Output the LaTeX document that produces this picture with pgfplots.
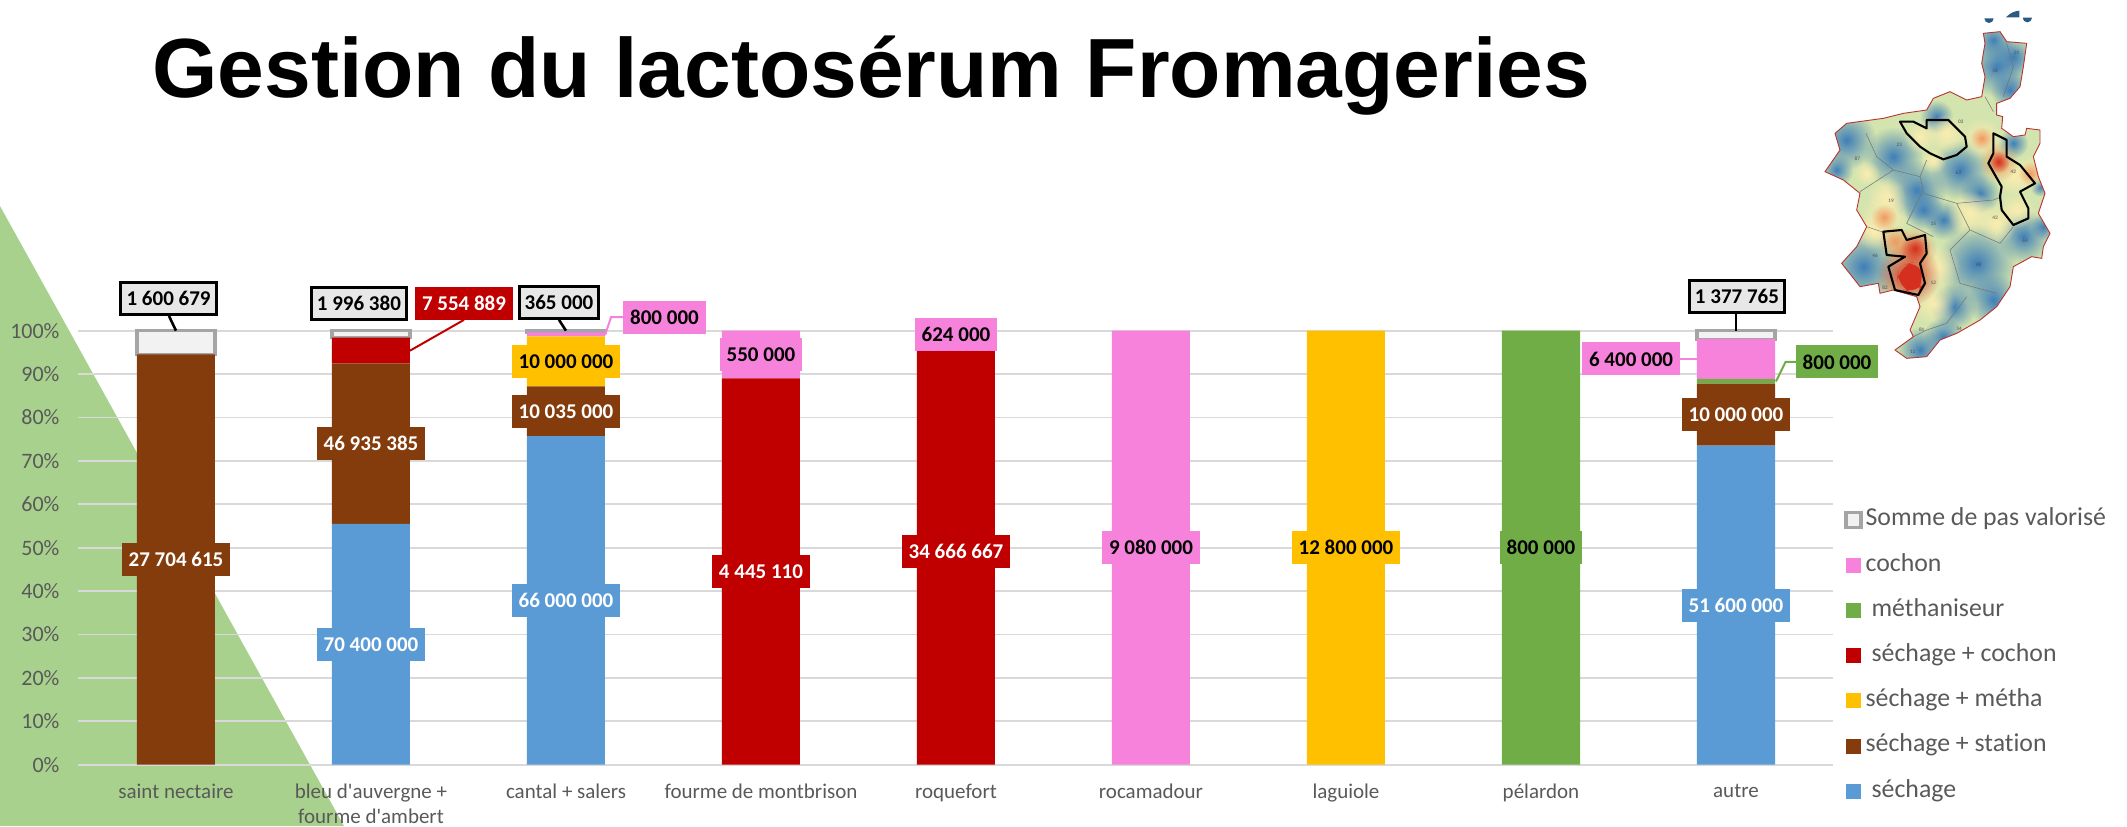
\documentclass[border=0pt]{standalone}
\usepackage{fontspec}
\setmainfont{Carlito}[Ligatures={NoCommon,TeXOff}]
\newfontfamily\titlefont{Liberation Sans}
\usepackage{pgfplots}
\usepackage{pgfplotstable}
\pgfplotsset{compat=1.18}
\usetikzlibrary{fadings}

\definecolor{cbleu}{HTML}{5B9BD5}
\definecolor{cbrun}{HTML}{843C0C}
\definecolor{cjaune}{HTML}{FFC000}
\definecolor{crouge}{HTML}{C00000}
\definecolor{cvert}{HTML}{70AD47}
\definecolor{crose}{HTML}{F782DC}
\definecolor{cgris}{HTML}{F2F2F2}
\definecolor{cgrisb}{HTML}{A5A5A5}
\definecolor{cboite}{HTML}{E7E7E7}
\definecolor{ctexte}{HTML}{595959}
\definecolor{cgrille}{HTML}{D9D9D9}
\definecolor{ctri}{HTML}{A9D18E}
\definecolor{mbase}{HTML}{D3E4AE}
\definecolor{mbleu}{HTML}{3F7FB8}
\definecolor{mjaune}{HTML}{FBEDB0}
\definecolor{morange}{HTML}{EE9A60}
\definecolor{mrouge}{HTML}{D5301F}

\tikzfading[name=blob, inner color=transparent!0, outer color=transparent!100]

% shares of each cheese (percent), worked out from the tonnages on the labels
% rows are stacked by position: "autre" comes fourth so the short last series lines up
\pgfplotstableread{
x sechage station metha seccoch methan cochon pas
0 0     94.54 0     0     0    0     5.46
1 55.48 36.99 0     5.95  0    0     1.57
2 75.69 11.51 11.47 0     0    0.92  0.42
8 73.53 14.25 0     0     1.14 9.12  1.96
3 0     0     0     88.99 0    11.01 nan
4 0     0     0     98.23 0    1.77  nan
5 0     0     0     0     0    100   nan
6 0     0     100   0     0    0     nan
7 0     0     0     0     100  0     nan
}\parts

\tikzset{
  val/.style={font=\fontsize{10.5}{12}\bfseries\selectfont, minimum height=16.5pt,
    inner xsep=3.5pt, inner ysep=0pt},
  bl/.style={val, fill=#1, text=white},
  nr/.style={val, fill=#1, text=black},
  bx/.style={val, fill=cboite, draw=black, line width=1.5pt, minimum height=16pt, inner xsep=2.8pt},
}
\pgfplotsset{cadre/.style={
    at={(39.25pt,30.65pt)}, anchor=south west,
    scale only axis, width=877.5pt, height=217pt,
    xmin=-0.5, xmax=8.5, ymin=0, ymax=100,
    clip=false,
}}

\begin{document}
\begin{tikzpicture}
\useasboundingbox (0,0) rectangle (1063.5pt,413pt);

\fill[ctri] (0,310pt) -- (0,0) -- (172pt,0) -- cycle;

\node[anchor=base west, inner sep=0pt, font=\titlefont\bfseries\fontsize{42}{50}\selectfont]
  at (76pt,364pt) {Gestion du lactosérum Fromageries};

% carte
\begin{scope}[shift={(890pt,413pt)}, x=0.16667pt, y=-0.16667pt]
  \def\contour{(610,100)--(660,95)--(680,125)--(740,130)--(730,200)--(720,260)--(690,295)--(650,310)--(650,345)--(668,350)--(665,385)--(700,410)--(735,405)--(740,385)--(780,390)--(780,430)--(760,470)--(775,530)--(795,580)--(775,640)--(810,700)--(790,740)--(785,775)--(755,770)--(700,800)--(690,860)--(650,920)--(600,960)--(530,1000)--(480,1020)--(440,1070)--(380,1075)--(345,1050)--(400,1010)--(390,990)--(420,920)--(410,890)--(340,870)--(300,880)--(295,850)--(240,860)--(185,790)--(230,740)--(260,680)--(230,630)--(240,580)--(190,540)--(135,515)--(180,450)--(165,400)--(200,370)--(310,355)--(370,340)--(440,330)--(460,295)--(510,275)--(560,300)--(605,290)--(615,230)--(605,190)--(615,130)--cycle}
  \begin{scope}
    \clip \contour;
    \fill[mbase] (100,50) rectangle (850,1100);
    \foreach \x/\y/\r in {650/200/90,640/120/60,700/170/60,690/270/60,200/420/90,340/470/90,
      170/510/50,410/570/90,540/510/90,600/580/60,250/800/110,590/790/120,520/920/70,730/710/80,
      430/630/60,640/900/80,420/1050/70,470/350/50,700/430/45,490/660/60,790/680/40,490/1010/60,
      780/560/30,680/950/60}
      \fill[mbleu, path fading=blob] (\x,\y) circle (\r);
    \foreach \x/\y/\r in {605/415/65,312/652/75,280/695/55,460/910/65,470/800/70,500/400/60,
      710/630/55,420/410/50,750/520/55,700/530/60,320/590/60,570/640/70,650/670/60,260/520/40,
      460/480/40}
      \fill[mjaune, path fading=blob] (\x,\y) circle (\r);
    \foreach \x/\y/\r in {605/415/36,655/485/60,750/520/36,312/652/40,345/725/50,405/745/65}
      \fill[morange, path fading=blob] (\x,\y) circle (\r);
    \foreach \x/\y/\r in {655/485/34,405/745/45,385/825/95}
      \fill[mrouge, path fading=blob] (\x,\y) circle (\r);
    \fill[mrouge, rounded corners=8pt] (355,800) -- (420,780) -- (432,850) -- (412,885) -- (350,860) -- cycle;
    \draw[black!55, line width=0.25pt]
      (258,400)--(290,470)--(340,510)--(240,575)
      (340,510)--(420,530)--(430,570)--(380,670)--(460,710)
      (430,580)--(530,610)--(570,690)--(510,750)--(540,850)--(650,880)
      (530,610)--(640,600)--(665,590)
      (420,530)--(440,480)
      (570,690)--(660,730)--(700,680)
      (400,1010)--(440,990)--(500,970)--(560,890)
      (260,680)--(320,700)
      (615,290)--(640,335)
      (680,130)--(700,200)--(670,290);
  \end{scope}
  \draw[red!65!black!80, line width=0.45pt] \contour;
  \draw[black, line width=1.05pt, line join=round]
    (360,365)--(400,365)--(440,385)--(440,360)--(505,360)--(555,410)--(560,440)--(530,465)--(490,478)--(450,460)--(420,440)--(380,400)--cycle;
  \draw[black, line width=1.05pt, line join=round]
    (640,400)--(680,420)--(680,470)--(720,495)--(765,550)--(720,575)--(745,625)--(745,655)--(700,675)--(665,630)--(660,590)--(665,560)--(625,490)--(640,460)--cycle;
  \draw[black, line width=1.05pt, line join=round]
    (310,695)--(365,690)--(380,720)--(435,705)--(440,760)--(420,790)--(435,850)--(415,885)--(345,870)--(325,800)--(375,770)--(320,765)--cycle;
  \fill[mbleu!70!black] (613,55) arc (180:0:14) -- cycle;
  \fill[mbleu!70!black] (678,52) to[bend left=20] (718,32) -- (718,52) -- cycle;
  \fill[mbleu!70!black] (728,53) arc (180:0:14) -- cycle;
  \foreach \x/\y/\t in {232/477/87,358/433/23,333/602/19,460/673/15,285/767/46,460/848/12,
    596/795/48,645/654/43,700/516/42,735/722/69,535/517/63,542/366/03,645/212/58,425/990/81,
    315/862/82,398/1055/11,537/985/34,710/158/21}
    \node[font=\fontsize{2.6}{3}\selectfont, text=black!70, inner sep=0pt] at (\x,\y) {\t};
\end{scope}

\begin{axis}[
    cadre,
    ybar stacked, bar width=39pt,
    axis line style={draw=none},
    major tick length=0pt,
    ymajorgrids=true,
    grid style={cgrille, line width=0.9pt},
    ytick={0,10,...,100},
    yticklabel={\pgfmathprintnumber[assume math mode=true]{\tick}\%},
    yticklabel style={text=ctexte, font=\fontsize{11}{13}\selectfont, xshift=-6pt},
    xtick={0,...,8},
    xticklabels={saint nectaire, {bleu d'auvergne +\\fourme d'ambert}, cantal + salers,
      fourme de montbrison, roquefort, rocamadour, laguiole, pélardon, autre},
    xticklabel style={text=ctexte, font=\fontsize{10.5}{12.4}\selectfont, align=center, yshift=-6pt},
    reverse legend,
    legend cell align=left,
    legend image code/.code={\path[#1] (0pt,-3.75pt) rectangle (7.5pt,3.75pt);},
    legend style={draw=none, fill=none, at={(1.006,0.251)}, anchor=west, inner sep=0pt,
      font=\fontsize{12.9}{14}\selectfont, text=ctexte, row sep=12.1pt,
      nodes={inner xsep=1.5pt, inner ysep=0pt, text height=1.7ex, text depth=0.5ex}},
]
\addplot[fill=cbleu, draw=none] table[x=x, y=sechage] {\parts};
\addlegendentry{\hspace{3pt}séchage}
\addplot[fill=cbrun, draw=none] table[x=x, y=station] {\parts};
\addlegendentry{séchage + station}
\addplot[fill=cjaune, draw=none] table[x=x, y=metha] {\parts};
\addlegendentry{séchage + métha}
\addplot[fill=crouge, draw=none] table[x=x, y=seccoch] {\parts};
\addlegendentry{\hspace{3pt}séchage + cochon}
\addplot[fill=cvert, draw=none] table[x=x, y=methan] {\parts};
\addlegendentry{\hspace{3pt}méthaniseur}
\addplot[fill=crose, draw=none] table[x=x, y=cochon] {\parts};
\addlegendentry{cochon}
\addplot[fill=cgris, draw=cgrisb, line width=1.6pt] table[x=x, y=pas] {\parts};
\addlegendentry{Somme de pas valorisé}
\end{axis}

% etiquettes, dans un second axe pour passer au-dessus des barres
\begin{axis}[cadre, hide axis]
\draw[black, line width=1.3pt] (axis cs:-0.036,103.4) -- (axis cs:0,100);
\draw[black, line width=1.3pt] (axis cs:1.964,102.5) -- (axis cs:2,100);
\draw[black, line width=1.3pt] (axis cs:8,103.8) -- (axis cs:8,100);
\draw[crouge, line width=1pt] (axis cs:1.477,102.5) -- (axis cs:1.2,95.4);
\draw[crose, line width=1pt] (axis cs:2.292,103.1) -- (axis cs:2.231,103.1) -- (axis cs:2.2,99);
\draw[cvert, line width=1pt] (axis cs:8.308,92.8) -- (axis cs:8.254,92.8) -- (axis cs:8.205,88.3);
\draw[crose, line width=1pt] (axis cs:7.708,93.5) -- (axis cs:7.8,93.5);

% saint nectaire
\node[bl=cbrun] at (axis cs:0,47.27) {27 704 615};
\node[bx] at (axis cs:-0.038,107.4) {1 600 679};
% bleu + fourme
\node[bl=cbleu] at (axis cs:1,27.74) {70 400 000};
\node[bl=cbrun] at (axis cs:1,73.97) {46 935 385};
\node[bl=crouge] at (axis cs:1.477,106.2) {7 554 889};
\node[bx] at (axis cs:0.938,106.2) {1 996 380};
% cantal + salers
\node[bl=cbleu] at (axis cs:2,37.85) {66 000 000};
\node[bl=cbrun] at (axis cs:2,81.45) {10 035 000};
\node[nr=cjaune] at (axis cs:2,92.94) {10 000 000};
\node[nr=crose] at (axis cs:2.505,103.1) {800 000};
\node[bx] at (axis cs:1.964,106.6) {365 000};
% fourme de montbrison
\node[bl=crouge] at (axis cs:3,44.5) {4 445 110};
\node[nr=crose] at (axis cs:3,94.5) {550 000};
% roquefort
\node[bl=crouge] at (axis cs:4,49.1) {34 666 667};
\node[nr=crose] at (axis cs:4,99.1) {624 000};
% les suivants
\node[nr=crose] at (axis cs:5,50) {9 080 000};
\node[nr=cjaune] at (axis cs:6,50) {12 800 000};
\node[nr=cvert] at (axis cs:7,50) {800 000};
% autre
\node[bl=cbleu] at (axis cs:8,36.77) {51 600 000};
\node[bl=cbrun] at (axis cs:8,80.65) {10 000 000};
\node[nr=crose] at (axis cs:7.462,93.5) {6 400 000};
\node[nr=cvert] at (axis cs:8.518,92.8) {800 000};
\node[bx] at (axis cs:8.005,107.8) {1 377 765};
\end{axis}
\end{tikzpicture}
\end{document}
